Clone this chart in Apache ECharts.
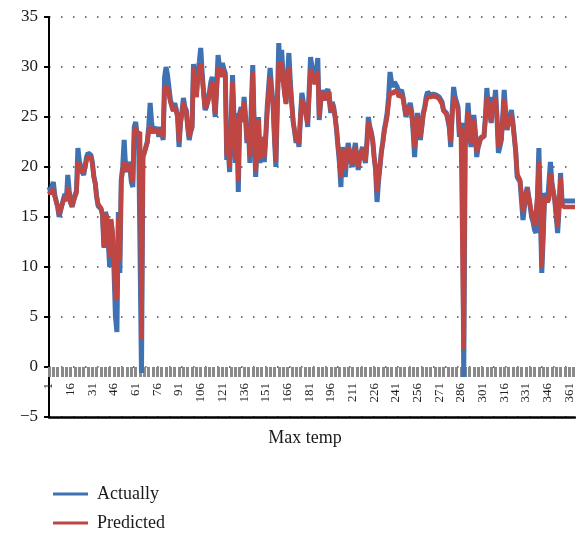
<!DOCTYPE html>
<html><head><meta charset="utf-8">
<script src="https://cdn.jsdelivr.net/npm/echarts@6/dist/echarts.min.js"></script>
<style>html,body{margin:0;padding:0;background:#fff}#c{width:576px;height:535px}</style>
</head><body><div id="c"></div>
<script>
const days = [];
for (let d = 1; d <= 365; d++) days.push(String(d));

const actually = [
18.0,17.6,17.8,18.5,17.2,16.6,16.0,15.0,15.6,16.2,
16.8,17.3,16.6,19.2,17.6,16.4,16.0,16.6,17.2,17.6,
21.9,20.6,20.0,19.5,19.2,20.1,21.0,21.4,21.3,21.2,
20.5,19.1,18.4,17.0,16.1,16.0,15.8,15.2,12.0,15.5,
15.0,12.5,10.0,14.5,13.0,9.6,5.0,3.5,15.5,9.4,
18.7,20.0,22.7,20.0,19.5,20.5,20.0,18.5,18.0,24.0,
24.5,23.2,23.5,23.7,-0.6,21.0,21.5,22.0,22.5,24.0,
26.4,24.5,23.4,24.0,23.5,24.0,23.0,24.0,23.5,22.7,
29.0,30.0,29.2,29.4,26.7,26.2,25.6,26.4,25.8,25.0,
22.0,24.5,25.5,26.9,26.0,25.7,24.0,22.7,23.5,24.0,
30.3,28.0,27.0,29.5,30.5,31.9,29.4,27.5,25.7,26.0,
26.7,27.5,28.5,29.0,27.0,25.0,28.0,31.2,30.0,29.5,
30.4,29.8,29.4,20.7,22.0,19.5,24.0,29.2,25.0,20.4,
25.4,17.5,25.4,26.0,24.5,27.0,25.0,22.4,24.0,20.4,
26.0,30.2,24.0,19.0,22.0,25.0,20.4,23.0,22.0,20.5,
23.0,26.0,28.0,29.9,28.0,26.4,23.0,20.0,26.0,32.4,
28.7,31.7,29.0,27.5,26.4,29.0,31.4,28.5,26.4,24.5,
23.5,22.4,23.0,22.0,25.0,27.4,26.5,25.7,26.0,24.0,
27.5,31.0,30.0,29.0,28.5,29.5,30.9,24.7,26.5,27.7,
27.0,26.7,27.5,27.8,28.0,25.4,26.5,26.0,25.0,23.7,
22.0,20.4,18.0,22.0,21.0,19.0,21.0,22.4,21.5,20.5,
20.0,21.5,22.4,21.0,19.7,21.0,21.5,22.0,21.0,20.4,
22.5,25.0,24.0,23.5,22.7,21.0,19.7,16.5,18.5,20.0,
21.5,22.5,23.7,24.5,25.4,27.0,29.5,28.5,28.0,28.5,
28.7,28.0,27.4,27.5,27.7,27.0,26.0,25.0,25.5,26.0,
26.4,25.5,23.5,21.0,23.5,25.4,24.0,22.7,24.0,25.4,
26.0,27.0,27.5,27.3,27.2,27.4,27.3,27.1,27.2,27.1,
27.0,27.0,26.5,25.7,25.5,25.4,25.2,24.0,22.0,25.5,
28.0,27.0,26.5,26.0,23.0,24.0,24.4,-1.0,22.0,24.0,
26.4,24.0,22.0,23.5,25.2,23.5,21.0,22.0,22.5,23.0,
23.0,23.0,25.0,27.9,26.0,25.5,24.4,27.0,26.0,27.7,
25.0,21.4,22.0,22.7,25.0,27.7,25.5,23.7,24.5,25.0,
25.7,24.5,23.0,21.5,19.0,18.8,18.5,18.7,14.7,16.0,
17.4,18.0,18.0,16.0,15.0,14.5,13.7,13.4,17.0,21.9,
16.0,9.4,13.0,17.4,17.0,16.5,16.7,20.5,18.5,17.5,
16.7,15.0,13.4,16.0,19.4,16.7,16.6,16.6,16.6,16.6,
16.6,16.6,16.6,16.6,16.6
];

const predicted = [
17.6,17.3,17.5,17.8,17.0,16.5,16.0,15.3,15.7,16.2,
16.6,17.0,16.6,18.0,17.3,16.4,16.1,16.6,17.0,17.4,
20.5,20.2,19.8,19.4,19.3,19.9,20.7,21.0,21.1,21.0,
20.3,19.0,18.3,17.0,16.3,16.1,15.9,15.3,11.9,15.3,
15.0,13.0,11.0,14.8,13.5,10.5,6.7,7.0,15.0,10.5,
18.5,19.8,20.5,20.0,19.6,20.3,20.0,18.8,18.5,23.5,
24.0,23.2,23.3,23.5,2.7,21.0,21.4,21.9,22.4,23.6,
24.0,24.2,23.4,23.8,23.4,23.8,23.2,23.8,23.4,23.0,
28.0,28.2,28.0,27.8,26.5,26.0,25.6,26.0,25.6,25.0,
22.5,24.3,25.3,26.5,25.8,25.5,24.0,23.0,23.5,24.0,
30.0,28.0,27.0,28.8,29.5,30.3,29.0,27.3,25.9,26.0,
26.5,27.3,28.0,28.5,26.8,25.3,27.5,30.0,29.5,29.0,
29.8,29.5,29.0,21.2,22.2,20.0,24.0,28.5,25.0,20.8,
25.0,18.5,25.0,25.8,24.5,26.5,25.0,22.6,24.0,21.0,
25.5,29.5,24.0,19.5,22.0,24.8,20.8,23.0,22.0,21.0,
23.0,25.5,27.5,29.0,27.5,26.2,23.0,20.5,26.0,30.5,
28.5,30.5,28.8,27.3,26.3,28.5,30.0,28.0,26.3,24.5,
23.6,22.6,23.0,22.3,24.8,26.8,26.3,25.6,25.8,24.3,
27.0,29.8,29.3,28.6,28.3,29.0,29.6,25.0,26.5,27.5,
27.0,26.7,27.3,27.5,27.5,25.6,26.3,25.8,25.0,23.8,
22.2,20.8,19.0,21.8,21.0,19.8,21.0,22.0,21.5,20.6,
20.3,21.4,22.0,21.0,20.0,21.0,21.4,21.8,21.0,20.6,
22.3,24.5,24.0,23.4,22.6,21.0,19.8,17.5,18.8,20.0,
21.5,22.4,23.5,24.3,25.0,26.3,27.5,27.5,27.3,27.6,
27.8,27.5,27.0,27.2,27.3,26.8,26.0,25.2,25.5,26.0,
26.2,25.5,23.8,22.0,23.5,25.2,24.0,23.0,24.0,25.2,
25.8,26.6,27.0,27.0,27.0,27.2,27.1,27.0,27.0,27.0,
26.8,26.7,26.3,25.6,25.4,25.3,25.0,24.0,22.5,25.0,
27.0,26.6,26.2,25.8,23.3,24.0,24.2,1.7,22.3,23.8,
25.5,23.8,22.3,23.5,24.8,23.4,21.5,22.0,22.5,23.0,
23.0,23.0,24.8,27.0,25.8,25.3,24.5,26.5,26.0,27.0,
25.0,22.0,22.3,22.8,24.8,26.8,25.2,23.8,24.3,24.8,
25.3,24.3,23.0,21.5,19.3,19.0,18.7,18.8,15.5,16.3,
17.3,17.8,17.8,16.2,15.3,14.8,14.2,14.0,17.0,20.5,
16.0,10.0,13.5,17.0,17.0,16.5,16.8,19.4,18.3,17.5,
16.7,15.3,14.0,16.0,19.0,16.5,16.0,16.0,16.0,16.0,
16.0,16.0,16.0,16.0,16.0
];

const FONT = '"Liberation Serif", "DejaVu Serif", serif';
const legendText = {fontFamily: FONT, fontSize: 18, color: '#1a1a1a', padding: [0, 0, 0, 4]};
const chart = echarts.init(document.getElementById('c'), null, {renderer: 'canvas'});
chart.setOption({
  animation: false,
  backgroundColor: '#fff',
  grid: {left: 49, right: 1, top: 17, bottom: 118, containLabel: false},
  legend: [
    {left: 48, top: 480, icon: 'rect', itemWidth: 35, itemHeight: 3, textStyle: legendText, data: ['Actually']},
    {left: 48, top: 509, icon: 'rect', itemWidth: 35, itemHeight: 3, textStyle: legendText, data: ['Predicted']}
  ],
  xAxis: [{
    type: 'category', data: days, boundaryGap: false, position: 'bottom', offset: -50,
    axisLine: {onZero: false, show: true, lineStyle: {color: 'rgba(0,0,0,0)'}},
    axisTick: {show: true, interval: 2, length: 10, inside: false, lineStyle: {color: '#8a8a8a', width: 3}},
    axisLabel: {interval: 14, rotate: 90, margin: 16, fontFamily: FONT, fontSize: 13, color: '#222'},
    splitLine: {show: false}
  }, {
    type: 'category', data: days, boundaryGap: false, position: 'bottom',
    axisLine: {onZero: false, show: true, lineStyle: {color: '#000', width: 2.5}},
    axisTick: {show: false}, axisLabel: {show: false}, splitLine: {show: false},
    name: 'Max temp', nameLocation: 'middle', nameGap: 12,
    nameTextStyle: {fontFamily: FONT, fontSize: 18, color: '#1a1a1a', padding: [0, 14, 0, 0]}
  }],
  yAxis: {
    type: 'value', min: -5, max: 35, interval: 5,
    axisLine: {show: true, lineStyle: {color: '#000', width: 2}},
    axisTick: {show: true, length: 5, lineStyle: {color: '#000', width: 2}},
    axisLabel: {margin: 11, fontFamily: FONT, fontSize: 17, color: '#1a1a1a',
      formatter: v => v < 0 ? '\u2212' + Math.abs(v) : String(v)},
    splitLine: {show: true, lineStyle: {color: '#444', width: 1.5, type: [1.5, 10.5]}}
  },
  series: [
    {name: 'Actually', type: 'line', xAxisIndex: 0, data: actually, showSymbol: false,
     lineStyle: {color: '#3e72b3', width: 5}, itemStyle: {color: '#3e72b3'}, z: 2},
    {name: 'Predicted', type: 'line', xAxisIndex: 0, data: predicted, showSymbol: false,
     lineStyle: {color: '#bf4642', width: 4.5}, itemStyle: {color: '#bf4642'}, z: 3}
  ]
});
</script>
</body></html>
